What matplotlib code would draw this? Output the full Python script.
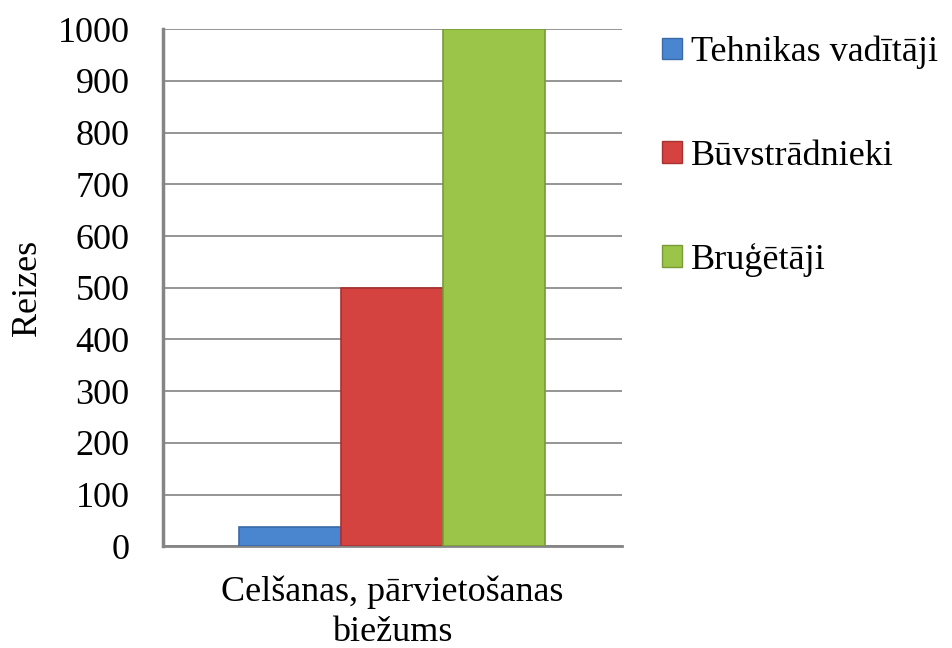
import matplotlib
matplotlib.use("Agg")
import matplotlib.pyplot as plt
from matplotlib.patches import Patch

categories = ["Celšanas, pārvietošanas\nbiežums"]
series_names = ["Tehnikas vadītāji", "Būvstrādnieki", "Bruģētāji"]
series_values = [38, 500, 1000]
colors = ["#4a86cf", "#d4433f", "#9bc548"]
edges = ["#3a6aa8", "#a8322f", "#7a9a38"]
yticks = [0, 100, 200, 300, 400, 500, 600, 700, 800, 900, 1000]

plt.rcParams['font.family'] = ['Liberation Serif', 'DejaVu Serif']

fig = plt.figure(figsize=(9.52, 6.48), dpi=100)
ax = fig.add_axes([0.171, 0.157, 0.482, 0.798])

width = 0.222
offsets = [-width, 0, width]
for i, (name, val) in enumerate(zip(series_names, series_values)):
    ax.bar(0 + offsets[i], val, width=width, color=colors[i], edgecolor=edges[i],
           linewidth=1.2, label=name, zorder=3)

ax.set_xlim(-0.5, 0.5)
ax.set_ylim(0, 1000)
ax.set_yticks(yticks)
ax.set_yticklabels([str(t) for t in yticks], fontsize=26)
ax.set_xticks([0])
ax.set_xticklabels(categories, fontsize=26, linespacing=1.3)
ax.tick_params(axis='x', length=0, pad=21)
ax.tick_params(axis='y', length=0, pad=24)
ax.yaxis.grid(True, color="#8c8c8c", linewidth=1.3, zorder=0)
ax.set_axisbelow(True)
for s in ["top", "right"]:
    ax.spines[s].set_visible(False)
ax.spines["left"].set_color("#858585")
ax.spines["left"].set_linewidth(2.5)
ax.spines["bottom"].set_color("#858585")
ax.spines["bottom"].set_linewidth(2)
ax.set_ylabel("Reizes", fontsize=26, labelpad=10)

handles = [Patch(facecolor=colors[i], edgecolor=edges[i], label=series_names[i]) for i in range(3)]
fig.legend(handles=handles, loc="upper left", bbox_to_anchor=(0.68, 0.967),
           frameon=False, fontsize=26, labelspacing=1.95, handlelength=0.55,
           handleheight=0.55, handletextpad=0.25, borderaxespad=0)

fig.savefig("out.png", dpi=100, facecolor="white")
